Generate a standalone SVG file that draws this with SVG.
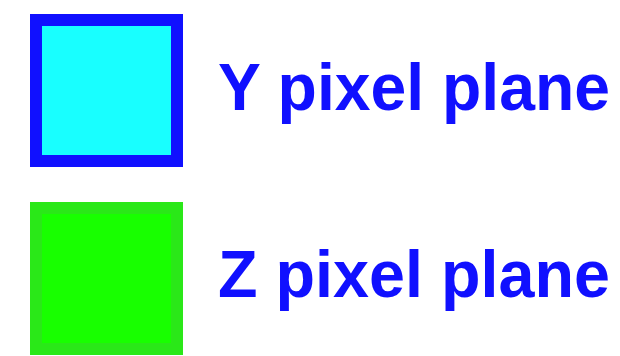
<svg xmlns="http://www.w3.org/2000/svg" width="620" height="356" viewBox="0 0 620 356">
<style>
.lbl{font-family:"Liberation Sans",Arial,sans-serif;font-weight:bold;font-size:64px;fill:#1010ff}
</style>
<rect width="620" height="356" fill="#ffffff"/>
<g id="y-plane">
<rect x="36" y="20" width="141" height="141" fill="#18ffff" stroke="#1010ff" stroke-width="12"/>
<text class="lbl" transform="translate(218,110) scale(1,1.05)" x="0" y="0" textLength="392" lengthAdjust="spacingAndGlyphs">Y pixel plane</text>
</g>
<g id="z-plane">
<rect x="36" y="208" width="141" height="141" fill="#18ff00" stroke="#2ae818" stroke-width="12"/>
<text class="lbl" transform="translate(218,297) scale(1,1.05)" x="0" y="0" textLength="392" lengthAdjust="spacingAndGlyphs">Z pixel plane</text>
</g>
<g id="connectors"></g>
</svg>
